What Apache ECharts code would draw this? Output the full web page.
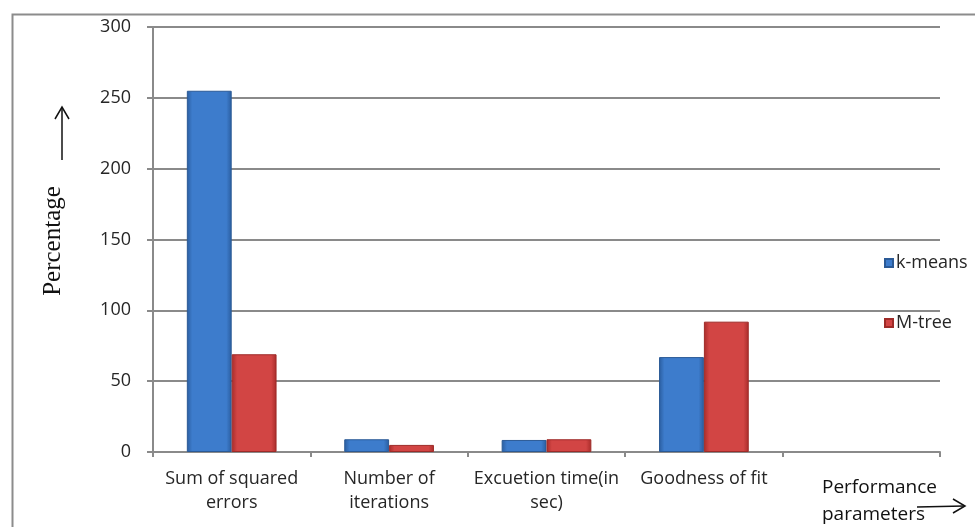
<!DOCTYPE html>
<html>
<head>
<meta charset="utf-8">
<style>
  html, body { margin: 0; padding: 0; background: #fff; }
  #chart { width: 975px; height: 527px; }
</style>
<script src="https://cdn.jsdelivr.net/npm/echarts@6/dist/echarts.min.js"></script>
</head>
<body>
<div id="chart"></div>
<script>
// Performance comparison of k-means vs M-tree clustering
const categories = ['Sum of squared\nerrors', 'Number of\niterations', 'Excuetion time(in\nsec)', 'Goodness of fit', ''];
const kMeans = [255, 9, 8.5, 67, null];
const mTree = [69, 5, 9, 92, null];
const yTicks = { min: 0, max: 300, interval: 50 };

const labelFont = '"Open Sans", "Noto Sans", sans-serif';
const textColor = '#262626';
const gridColor = '#8a8a8a';

function barGradient(edge, mid) {
  return new echarts.graphic.LinearGradient(0, 0, 1, 0, [
    { offset: 0, color: edge },
    { offset: 0.12, color: mid },
    { offset: 0.88, color: mid },
    { offset: 1, color: edge }
  ]);
}

const chart = echarts.init(document.getElementById('chart'), null, { renderer: 'canvas' });

chart.setOption({
  animation: false,
  backgroundColor: '#fff',
  grid: { left: 153, right: 35, top: 27, bottom: 75, containLabel: false },
  legend: {
    orient: 'vertical',
    left: 879,
    top: 249,
    itemGap: 42,
    itemWidth: 8,
    itemHeight: 8,
    icon: 'rect',
    textStyle: { fontFamily: labelFont, fontSize: 18, color: textColor, padding: [0, 0, 0, -2] },
    data: ['k-means', 'M-tree']
  },
  xAxis: {
    type: 'category',
    data: categories,
    axisLine: { lineStyle: { color: gridColor, width: 2 } },
    axisTick: { show: true, length: 5, lineStyle: { color: gridColor, width: 2 } },
    axisLabel: {
      interval: 0,
      margin: 15,
      fontFamily: labelFont,
      fontSize: 18,
      lineHeight: 24,
      color: textColor
    }
  },
  yAxis: {
    type: 'value',
    min: yTicks.min,
    max: yTicks.max,
    interval: yTicks.interval,
    axisLine: { show: true, lineStyle: { color: gridColor, width: 2 } },
    axisTick: { show: true, length: 6, lineStyle: { color: gridColor, width: 2 } },
    splitLine: { lineStyle: { color: gridColor, width: 2 } },
    axisLabel: { margin: 22, fontFamily: labelFont, fontSize: 18, color: textColor }
  },
  series: [
    {
      name: 'k-means',
      type: 'bar',
      data: kMeans,
      barGap: '0%',
      barCategoryGap: '43%',
      itemStyle: {
        color: barGradient('#2a5d9f', '#3d7ccc'),
        borderColor: '#2b5a96',
        borderWidth: 1
      }
    },
    {
      name: 'M-tree',
      type: 'bar',
      data: mTree,
      itemStyle: {
        color: barGradient('#a82c2a', '#d24544'),
        borderColor: '#9e2b28',
        borderWidth: 1
      }
    }
  ],
  graphic: [
    // outer frame
    {
      type: 'rect', left: 10, top: 12, z: -1,
      shape: { width: 1000, height: 600 },
      style: { fill: 'none', stroke: '#8c8c8c', lineWidth: 2 }
    },
    // y-axis title
    {
      type: 'text', x: 53, y: 241, rotation: Math.PI / 2,
      style: {
        text: 'Percentage', fontFamily: '"Liberation Serif", "DejaVu Serif", serif',
        fontSize: 25, fill: '#111', align: 'center', verticalAlign: 'middle'
      }
    },
    {
      type: 'line', shape: { x1: 62, y1: 160, x2: 62, y2: 108 },
      style: { stroke: '#111', lineWidth: 1.5 }
    },
    {
      type: 'polyline', shape: { points: [[55, 119], [62, 107], [69, 119]] },
      style: { stroke: '#111', lineWidth: 1.5, fill: 'none' }
    },
    // x-axis title
    {
      type: 'text', x: 822, y: 474,
      style: {
        text: 'Performance\nparameters', fontFamily: labelFont,
        fontSize: 19, lineHeight: 27, fill: '#111', align: 'left', verticalAlign: 'top'
      }
    },
    {
      type: 'line', shape: { x1: 917, y1: 507, x2: 964, y2: 506 },
      style: { stroke: '#111', lineWidth: 1.5 }
    },
    {
      type: 'polyline', shape: { points: [[953, 499], [965, 506], [953, 513]] },
      style: { stroke: '#111', lineWidth: 1.5, fill: 'none' }
    }
  ]
});
</script>
</body>
</html>
